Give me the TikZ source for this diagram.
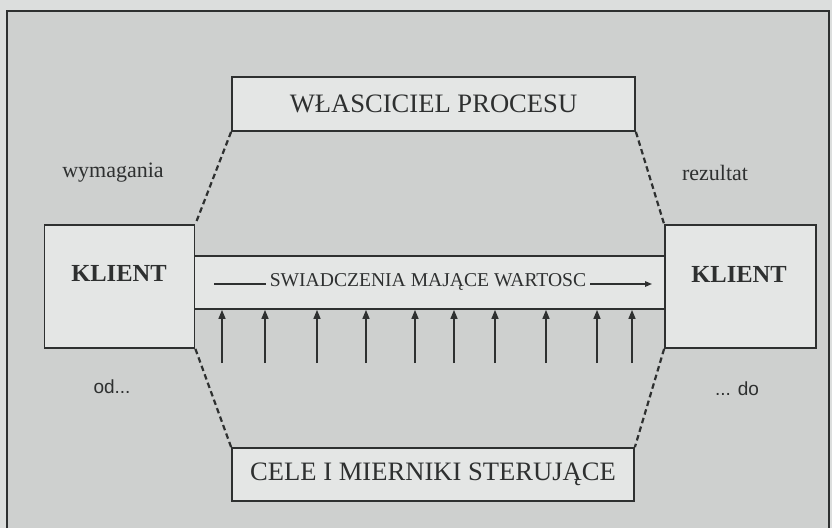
\documentclass[tikz,border=0pt]{standalone}
\usepackage{fontspec}
\setmainfont{Liberation Serif}
\newfontfamily\lsans{Liberation Sans}
\usetikzlibrary{arrows.meta}
\definecolor{pagebg}{HTML}{DCDEDD}
\definecolor{framebg}{HTML}{CED0CF}
\definecolor{boxbg}{HTML}{E4E6E5}
\definecolor{ink}{HTML}{2E3030}
\tikzset{
  box/.style={draw=ink, line width=1.8pt, fill=boxbg, inner sep=0pt, text=ink},
  bigtext/.style={font=\fontsize{26.6}{30}\selectfont},
  clienttext/.style={font=\fontsize{24.5}{28}\selectfont\bfseries},
  sidetext/.style={font=\fontsize{22}{26}\selectfont, text=ink},
  sanstext/.style={font=\lsans\fontsize{19}{22}\selectfont, text=ink},
  dashline/.style={draw=ink, line width=2.2pt, dash pattern=on 5.5pt off 3.5pt},
  uparrow/.style={draw=ink, line width=1.5pt, -{Triangle[length=9pt,width=7pt]}},
  flowline/.style={draw=ink, line width=1.4pt},
}
\begin{document}
\begin{tikzpicture}[x=1pt,y=-1pt]
\useasboundingbox (0,0) rectangle (832,528);
\fill[pagebg] (0,0) rectangle (832,528);
\fill[framebg] (7,11) rectangle (829,528);
\draw[ink, line width=1.8pt] (7,528) -- (7,11) -- (829,11) -- (829,528);

% band
\node[box, minimum width=471pt, minimum height=53pt] (band) at (429.5,282.5) {};
% clients
\node[box, minimum width=150pt, minimum height=123pt] (kl) at (119.5,286.5) {};
\node[clienttext, text=ink] (kltext) at (119,273) {KLIENT};
\node[box, minimum width=151pt, minimum height=123pt] (kr) at (740.5,286.5) {};
\node[clienttext, text=ink] (krtext) at (739,274) {KLIENT};
% owner and goals
\node[box, bigtext, minimum width=403pt, minimum height=54pt] (owner) at (433.5,104) {WŁASCICIEL PROCESU};
\node[box, bigtext, minimum width=402pt, minimum height=53pt] (goals) at (433,474.5) {CELE I MIERNIKI STERUJĄCE};

% band text and flow arrow
\node[font=\fontsize{19.6}{22}\selectfont, text=ink, inner sep=4pt] (bandtext) at (428,282) {SWIADCZENIA MAJĄCE WARTOSC};
\coordinate (fl) at (214,284);
\coordinate (fr) at (652,284);
\draw[flowline] (fl) -- (fl -| bandtext.west);
\draw[flowline, -{Triangle[length=7pt,width=5.5pt]}] (bandtext.east |- fr) -- (fr);

% dashed connectors
\draw[dashline] (owner.south west) -- (kl.north east);
\draw[dashline] (owner.south east) -- (kr.north west);
\draw[dashline] (kl.south east) -- (goals.north west);
\draw[dashline] (kr.south west) -- (goals.north east);

% upward arrows
\foreach \i/\x in {1/222,2/265,3/317,4/366,5/415,6/454,7/495,8/546,9/597,10/632}{
  \coordinate (u\i) at (\x,363);
  \draw[uparrow] (u\i) -- (u\i |- band.south);
}

% side labels
\node[sidetext] (req) at (113,173) {wymagania};
\node[sidetext] (res) at (715,173) {rezultat};
\node[sanstext] (od) at (112,387) {od...};
\node[sanstext] (do) at (737,389) {... do};
\end{tikzpicture}
\end{document}
